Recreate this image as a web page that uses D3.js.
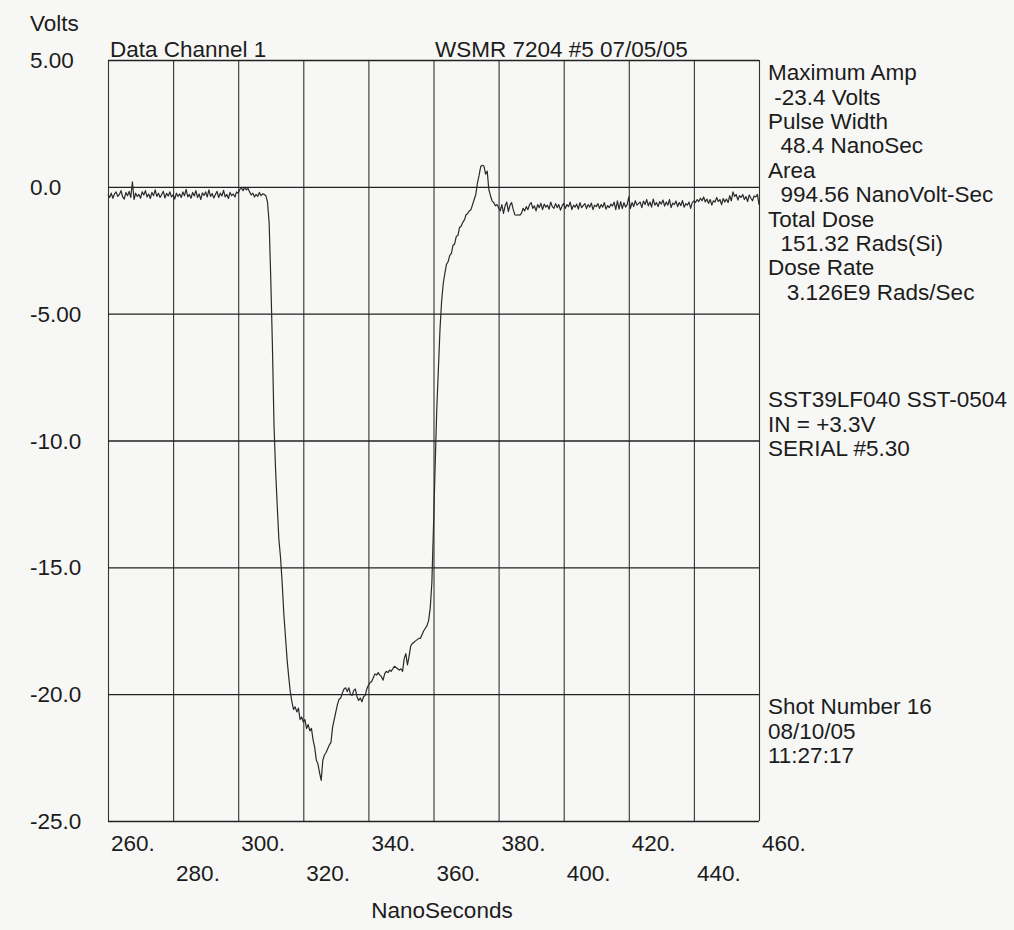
<!DOCTYPE html>
<html>
<head>
<meta charset="utf-8">
<script src="https://cdn.jsdelivr.net/npm/d3@7.9.0/dist/d3.min.js"></script>
<style>
  body { margin: 0; background: #f7f7f5; }
  svg { display: block; font-family: "Liberation Sans", Arial, sans-serif; }
  text { fill: #1c1c1c; white-space: pre; }
</style>
</head>
<body>
<svg id="chart" width="1014" height="930"></svg>
<script>
const xTicks = [260, 280, 300, 320, 340, 360, 380, 400, 420, 440, 460];
const xTickLabels = ["260.", "280.", "300.", "320.", "340.", "360.", "380.", "400.", "420.", "440.", "460."];
const yTicks = [5, 0, -5, -10, -15, -20, -25];
const yTickLabels = ["5.00", "0.0", "-5.00", "-10.0", "-15.0", "-20.0", "-25.0"];

// sampled trace, one value every 0.5 ns from 260 ns
const startNs = 260;
const stepNs = 0.5;
const volts = [
  -0.30,-0.42,-0.25,-0.45,-0.28,-0.20,-0.38,-0.30,-0.15,-0.40,-0.48,-0.22,-0.35,-0.18,-0.42,0.20,-0.50,-0.25,-0.38,-0.30,
  -0.45,-0.20,-0.32,-0.15,-0.40,-0.28,-0.46,-0.22,-0.35,-0.12,-0.38,-0.25,-0.42,-0.30,-0.18,-0.44,-0.26,-0.36,-0.20,-0.40,
  -0.32,-0.48,-0.25,-0.38,-0.28,-0.42,-0.20,-0.35,-0.10,-0.40,-0.30,-0.45,-0.22,-0.36,-0.15,-0.42,-0.28,-0.50,-0.24,-0.34,
  -0.20,-0.40,-0.12,-0.38,-0.26,-0.44,-0.30,-0.18,-0.42,-0.25,-0.36,-0.14,-0.40,-0.30,-0.46,-0.22,-0.35,-0.28,-0.40,-0.20,
  -0.25,-0.10,-0.05,-0.15,-0.02,-0.12,-0.06,-0.20,-0.32,-0.25,-0.40,-0.30,-0.38,-0.22,-0.35,-0.28,-0.30,-0.35,-0.60,-1.40,
  -3.6,-6.2,-9.4,-11.2,-12.6,-13.9,-14.6,-15.6,-16.8,-17.7,-18.6,-19.3,-19.9,-20.3,-20.6,-20.5,-20.7,-20.55,-21.0,-20.9,
  -21.1,-21.0,-21.35,-21.2,-21.45,-21.35,-21.8,-22.1,-22.6,-22.75,-23.1,-23.4,-22.6,-22.4,-22.3,-22.15,-22.0,-21.9,-21.3,-21.0,
  -20.7,-20.4,-20.2,-20.15,-19.95,-19.8,-19.75,-19.9,-19.75,-20.0,-20.05,-19.85,-19.8,-20.1,-20.25,-20.15,-20.3,-20.1,-20.05,-19.8,
  -19.65,-19.55,-19.5,-19.35,-19.2,-19.25,-19.15,-19.25,-19.3,-19.45,-19.2,-19.1,-19.15,-19.05,-19.1,-19.0,-18.9,-18.95,-19.0,-19.05,
  -19.0,-19.1,-18.6,-18.4,-18.85,-18.5,-18.1,-18.0,-17.95,-17.9,-17.85,-17.8,-17.8,-17.65,-17.5,-17.4,-17.3,-17.1,-16.6,-15.6,
  -13.4,-11.0,-8.8,-7.2,-5.6,-4.5,-3.8,-3.4,-3.05,-2.95,-2.7,-2.62,-2.3,-2.25,-1.95,-1.92,-1.6,-1.55,-1.4,-1.3,
  -1.1,-1.05,-0.95,-0.9,-0.7,-0.5,-0.3,0.15,0.45,0.8,0.85,0.82,0.5,0.62,-0.1,-0.35,-0.55,-0.62,-0.75,-0.7,
  -0.82,-0.95,-0.7,-1.05,-0.75,-0.6,-0.98,-0.72,-0.62,-0.9,-1.1,-1.12,-1.1,-1.12,-1.05,-0.85,-0.95,-0.78,-0.9,-0.7,
  -0.62,-0.85,-0.75,-0.95,-0.7,-0.82,-0.65,-0.9,-0.68,-0.8,-0.72,-0.88,-0.6,-0.78,-0.85,-0.66,-0.82,-0.7,-0.92,-0.75,
  -0.65,-0.85,-0.7,-0.78,-0.6,-0.9,-0.72,-0.8,-0.68,-0.88,-0.62,-0.82,-0.74,-0.66,-0.86,-0.7,-0.8,-0.64,-0.9,-0.72,
  -0.78,-0.66,-0.85,-0.7,-0.8,-0.62,-0.88,-0.74,-0.82,-0.68,-0.76,-0.6,-0.9,-0.55,-0.88,-0.58,-0.86,-0.62,-0.8,-0.7,
  -0.4,-0.85,-0.62,-0.78,-0.55,-0.72,-0.66,-0.6,-0.82,-0.56,-0.7,-0.5,-0.75,-0.6,-0.8,-0.48,-0.72,-0.62,-0.78,-0.58,
  -0.68,-0.52,-0.76,-0.6,-0.72,-0.5,-0.82,-0.64,-0.7,-0.56,-0.78,-0.62,-0.74,-0.54,-0.8,-0.66,-0.72,-0.6,-0.85,-0.62,
  -0.55,-0.62,-0.5,-0.58,-0.45,-0.55,-0.4,-0.6,-0.48,-0.65,-0.5,-0.72,-0.55,-0.6,-0.42,-0.58,-0.5,-0.7,-0.46,-0.6,
  -0.48,-0.62,-0.35,-0.55,-0.2,-0.38,-0.3,-0.52,-0.35,-0.42,-0.3,-0.5,-0.38,-0.58,-0.32,-0.45,-0.55,-0.36,-0.4,-0.3,
  -0.7
];

const titleLeft = "Data Channel 1";
const titleRight = "WSMR 7204 #5 07/05/05";
const yTitle = "Volts";
const xTitle = "NanoSeconds";
const infoMeasures = [
  "Maximum Amp", " -23.4 Volts", "Pulse Width", "  48.4 NanoSec", "Area",
  "  994.56 NanoVolt-Sec", "Total Dose", "  151.32 Rads(Si)", "Dose Rate", "   3.126E9 Rads/Sec"
];
const infoDevice = ["SST39LF040 SST-0504", "IN = +3.3V", "SERIAL #5.30"];
const infoShot = ["Shot Number 16", "08/10/05", "11:27:17"];

const svg = d3.select("#chart");
const plotL = 108, plotR = 759, plotT = 60, plotB = 821;
const fontSize = 22.5;

const x = d3.scaleLinear().domain([260, 460]).range([plotL, plotR]);
const y = d3.scaleLinear().domain([5, -25]).range([plotT, plotB]);

// vertical grid
svg.append("g")
  .attr("transform", `translate(0,${plotB})`)
  .call(d3.axisBottom(x).tickValues(xTicks).tickSize(-(plotB - plotT)).tickFormat(""))
  .call(g => g.select(".domain").remove())
  .call(g => g.selectAll("line").attr("stroke", "#333").attr("stroke-width", 1.1));

// horizontal grid
svg.append("g")
  .attr("transform", `translate(${plotL},0)`)
  .call(d3.axisLeft(y).tickValues(yTicks).tickSize(-(plotR - plotL)).tickFormat(""))
  .call(g => g.select(".domain").remove())
  .call(g => g.selectAll("line").attr("stroke", "#222").attr("stroke-width", 1.4));

// y labels
svg.append("g").selectAll("text")
  .data(yTicks)
  .join("text")
  .attr("x", 30)
  .attr("y", d => y(d))
  .attr("dy", "0.36em")
  .attr("font-size", fontSize)
  .text((d, i) => yTickLabels[i]);

// x labels, staggered in two rows
svg.append("g").selectAll("text")
  .data(xTicks)
  .join("text")
  .attr("x", d => x(d) + 3)
  .attr("y", (d, i) => i % 2 === 0 ? 843 : 873)
  .attr("dy", "0.36em")
  .attr("font-size", fontSize)
  .text((d, i) => xTickLabels[i]);

svg.append("text").attr("x", 30).attr("y", 23).attr("dy", "0.36em")
  .attr("font-size", fontSize).text(yTitle);
svg.append("text").attr("x", 442).attr("y", 910).attr("dy", "0.36em")
  .attr("text-anchor", "middle").attr("font-size", fontSize).text(xTitle);
svg.append("text").attr("x", 110).attr("y", 49).attr("dy", "0.36em")
  .attr("font-size", fontSize).text(titleLeft);
svg.append("text").attr("x", 435).attr("y", 49).attr("dy", "0.36em")
  .attr("font-size", fontSize).text(titleRight);

// side notes
function block(lines, y0, step) {
  svg.append("g").selectAll("text")
    .data(lines)
    .join("text")
    .attr("x", 768)
    .attr("y", (d, i) => y0 + i * step)
    .attr("dy", "0.36em")
    .attr("font-size", fontSize)
    .text(d => d);
}
block(infoMeasures, 72, 24.4);
block(infoDevice, 399, 24.6);
block(infoShot, 706, 24.6);

// trace
const line = d3.line()
  .x((d, i) => x(startNs + i * stepNs))
  .y(d => y(d));

svg.append("path")
  .datum(volts)
  .attr("fill", "none")
  .attr("stroke", "#2a2a2a")
  .attr("stroke-width", 1.2)
  .attr("stroke-linejoin", "round")
  .attr("d", line);
</script>
</body>
</html>
